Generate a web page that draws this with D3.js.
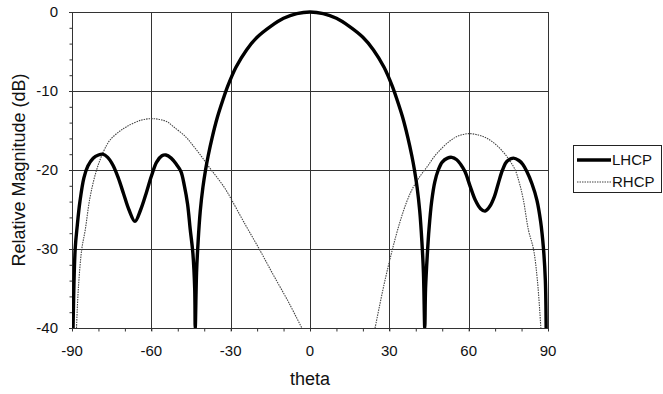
<!DOCTYPE html>
<html>
<head>
<meta charset="utf-8">
<script src="https://cdn.jsdelivr.net/npm/d3@7/dist/d3.min.js"></script>
<style>
  body { margin: 0; background: #fff; }
  svg text { font-family: "Liberation Sans", Arial, sans-serif; fill: #111; }
</style>
</head>
<body>
<svg id="chart" width="663" height="394"></svg>
<script>
// values
const lhcpTheta = [-89.6, -88.8, -88, -87, -85.5, -84, -82, -80, -78.4, -76.5, -74.5, -72.5, -70.5, -68.5, -66.2, -64, -62, -60, -58, -56, -54.5, -52.5, -50.5, -48.8, -47.5, -46.3, -45.3, -44.3, -43.6,
  -43.4, -42.9, -42.3, -41.5, -40.5, -39.5, -38.5, -37, -35, -33, -31, -28, -24, -20, -15, -10, -5, 0, 5, 10, 15, 20, 24, 28, 31, 33, 35, 37, 38.5, 39.5, 40.5, 41.5, 42.3, 42.9,
  43.4, 43.7, 44.4, 45, 46, 47.2, 48.5, 50, 52, 53.6, 55.5, 57, 58.6, 60.5, 62.5, 64.5, 66.2, 68, 69.8, 71.2, 72.8, 74.5, 76.9, 79, 80.5, 82, 84, 85.8, 87.2, 88.3, 89, 89.3];
const lhcpDb = [-40, -30, -27, -24, -21, -19.5, -18.5, -18.1, -18, -18.4, -19.4, -21, -23, -25, -26.5, -25, -23, -20.8, -19, -18.2, -18.1, -18.5, -19.3, -20.2, -22, -24.3, -27.5, -30.5, -35,
  -40, -33, -29, -25.2, -22.2, -20, -18.2, -15.9, -13.3, -11.2, -9.3, -7.0, -4.8, -3.2, -1.85, -0.8, -0.2, 0, -0.2, -0.8, -1.85, -3.2, -4.8, -7.0, -9.3, -11.2, -13.3, -15.9, -18.2, -20, -22.2, -25.2, -29, -33,
  -40, -35, -30.5, -27.5, -24, -21.5, -20, -19, -18.5, -18.4, -18.7, -19.3, -20.2, -22, -23.8, -24.9, -25.2, -24.6, -23.3, -21.7, -20, -18.9, -18.5, -18.8, -19.3, -20.2, -21.8, -23.8, -26.5, -30, -34, -40];

// RHCP drops below -40 dB between the two lobes (null = gap)
const rhcpTheta = [-88.3, -87.6, -86.3, -85, -83.2, -80.7, -78, -75.6, -72, -69.3, -64, -60, -57, -54, -51.7, -47, -44, -41, -38, -35, -32, -29.6, -25, -19.2, -14, -8, -3.1,
  10, 24.6, 28, 31.2, 34, 36.6, 39, 42, 44.5, 47, 50, 53, 56, 60, 64, 67, 70, 73, 75.5, 77.6, 79.3, 80.7, 82.6, 84.5, 86, 87.3];
const rhcpDb = [-40, -35, -30, -27.6, -23.5, -20, -17.6, -16.2, -15.1, -14.5, -13.7, -13.5, -13.6, -13.9, -14.5, -15.8, -17, -18.3, -19.7, -21, -22.4, -23.8, -26.6, -30, -33.2, -36.8, -40,
  null, -40, -34.5, -30, -26.6, -24, -22.2, -20.6, -19.5, -18.3, -17.2, -16.3, -15.7, -15.4, -15.6, -16, -16.7, -17.7, -18.8, -20, -21.8, -23.8, -27.6, -30, -34, -40];

const xTicks = [-90, -60, -30, 0, 30, 60, 90];
const yTicks = [0, -10, -20, -30, -40];
const seriesNames = ["LHCP", "RHCP"];

const svg = d3.select("#chart");
const m = { left: 72, right: 548, top: 12, bottom: 328 };

const x = d3.scaleLinear().domain([-90, 90]).range([m.left, m.right]);
const y = d3.scaleLinear().domain([-40, 0]).range([m.bottom, m.top]);

// grid
const grid = svg.append("g").attr("stroke", "#333").attr("stroke-width", 1).attr("shape-rendering", "crispEdges");
grid.selectAll("line.v").data(xTicks).join("line").attr("class", "v")
  .attr("x1", d => Math.round(x(d)) + 0.5).attr("x2", d => Math.round(x(d)) + 0.5)
  .attr("y1", m.top).attr("y2", m.bottom + 3);
grid.selectAll("line.h").data(yTicks).join("line").attr("class", "h")
  .attr("y1", d => Math.round(y(d)) + 0.5).attr("y2", d => Math.round(y(d)) + 0.5)
  .attr("x1", m.left - 3).attr("x2", m.right);

// minor ticks
const xAxis = d3.axisBottom(x).tickValues(d3.range(-90, 91, 10)).tickSize(3).tickFormat("");
svg.append("g").attr("transform", `translate(0,${Math.round(y(-40)) + 0.5})`).call(xAxis)
  .call(g => g.select(".domain").remove())
  .selectAll("line").attr("stroke", "#333");
const yAxis = d3.axisLeft(y).tickValues(d3.range(-40, 1, 2)).tickSize(3).tickFormat("");
svg.append("g").attr("transform", `translate(${Math.round(x(-90)) + 0.5},0)`).call(yAxis)
  .call(g => g.select(".domain").remove())
  .selectAll("line").attr("stroke", "#333");

// tick labels
svg.append("g").selectAll("text").data(xTicks).join("text")
  .attr("x", d => x(d)).attr("y", 356)
  .attr("text-anchor", "middle").attr("font-size", 15)
  .text(d => d);
svg.append("g").selectAll("text").data(yTicks).join("text")
  .attr("x", 58).attr("y", d => y(d) + 5)
  .attr("text-anchor", "end").attr("font-size", 15)
  .text(d => d);

// axis titles
svg.append("text").attr("x", 310).attr("y", 385).attr("text-anchor", "middle")
  .attr("font-size", 18).text("theta");
svg.append("text").attr("transform", "translate(25,170) rotate(-90)").attr("text-anchor", "middle")
  .attr("font-size", 18).text("Relative Magnitude (dB)");

// curves
svg.append("clipPath").attr("id", "plot").append("rect")
  .attr("x", m.left).attr("y", m.top - 2).attr("width", m.right - m.left + 1).attr("height", m.bottom - m.top + 2);

const line = d3.line()
  .defined(d => d[1] !== null)
  .x(d => x(d[0])).y(d => y(d[1]))
  .curve(d3.curveCatmullRom.alpha(0.5));

const plot = svg.append("g").attr("clip-path", "url(#plot)");
plot.append("path")
  .datum(rhcpTheta.map((t, i) => [t, rhcpDb[i]]))
  .attr("fill", "none").attr("stroke", "#444").attr("stroke-width", 1.1)
  .attr("stroke-dasharray", "1.5,1")
  .attr("d", line);
plot.append("path")
  .datum(lhcpTheta.map((t, i) => [t, lhcpDb[i]]))
  .attr("fill", "none").attr("stroke", "#000").attr("stroke-width", 3.4)
  .attr("stroke-linejoin", "round")
  .attr("d", line);

// legend
const lg = svg.append("g").attr("transform", "translate(573,145)");
lg.append("rect").attr("x", 0.5).attr("y", 0.5).attr("width", 88).attr("height", 47)
  .attr("fill", "#fff").attr("stroke", "#222").attr("stroke-width", 1);
lg.selectAll("line").data(seriesNames).join("line")
  .attr("x1", 4).attr("x2", 38)
  .attr("y1", (d, i) => 15 + i * 22).attr("y2", (d, i) => 15 + i * 22)
  .attr("stroke", (d, i) => i === 0 ? "#000" : "#444")
  .attr("stroke-width", (d, i) => i === 0 ? 3.4 : 1.1)
  .attr("stroke-dasharray", (d, i) => i === 0 ? null : "1.5,1");
lg.selectAll("text").data(seriesNames).join("text")
  .attr("x", 39).attr("y", (d, i) => 20 + i * 22)
  .attr("font-size", 15)
  .text(d => d);
</script>
</body>
</html>
